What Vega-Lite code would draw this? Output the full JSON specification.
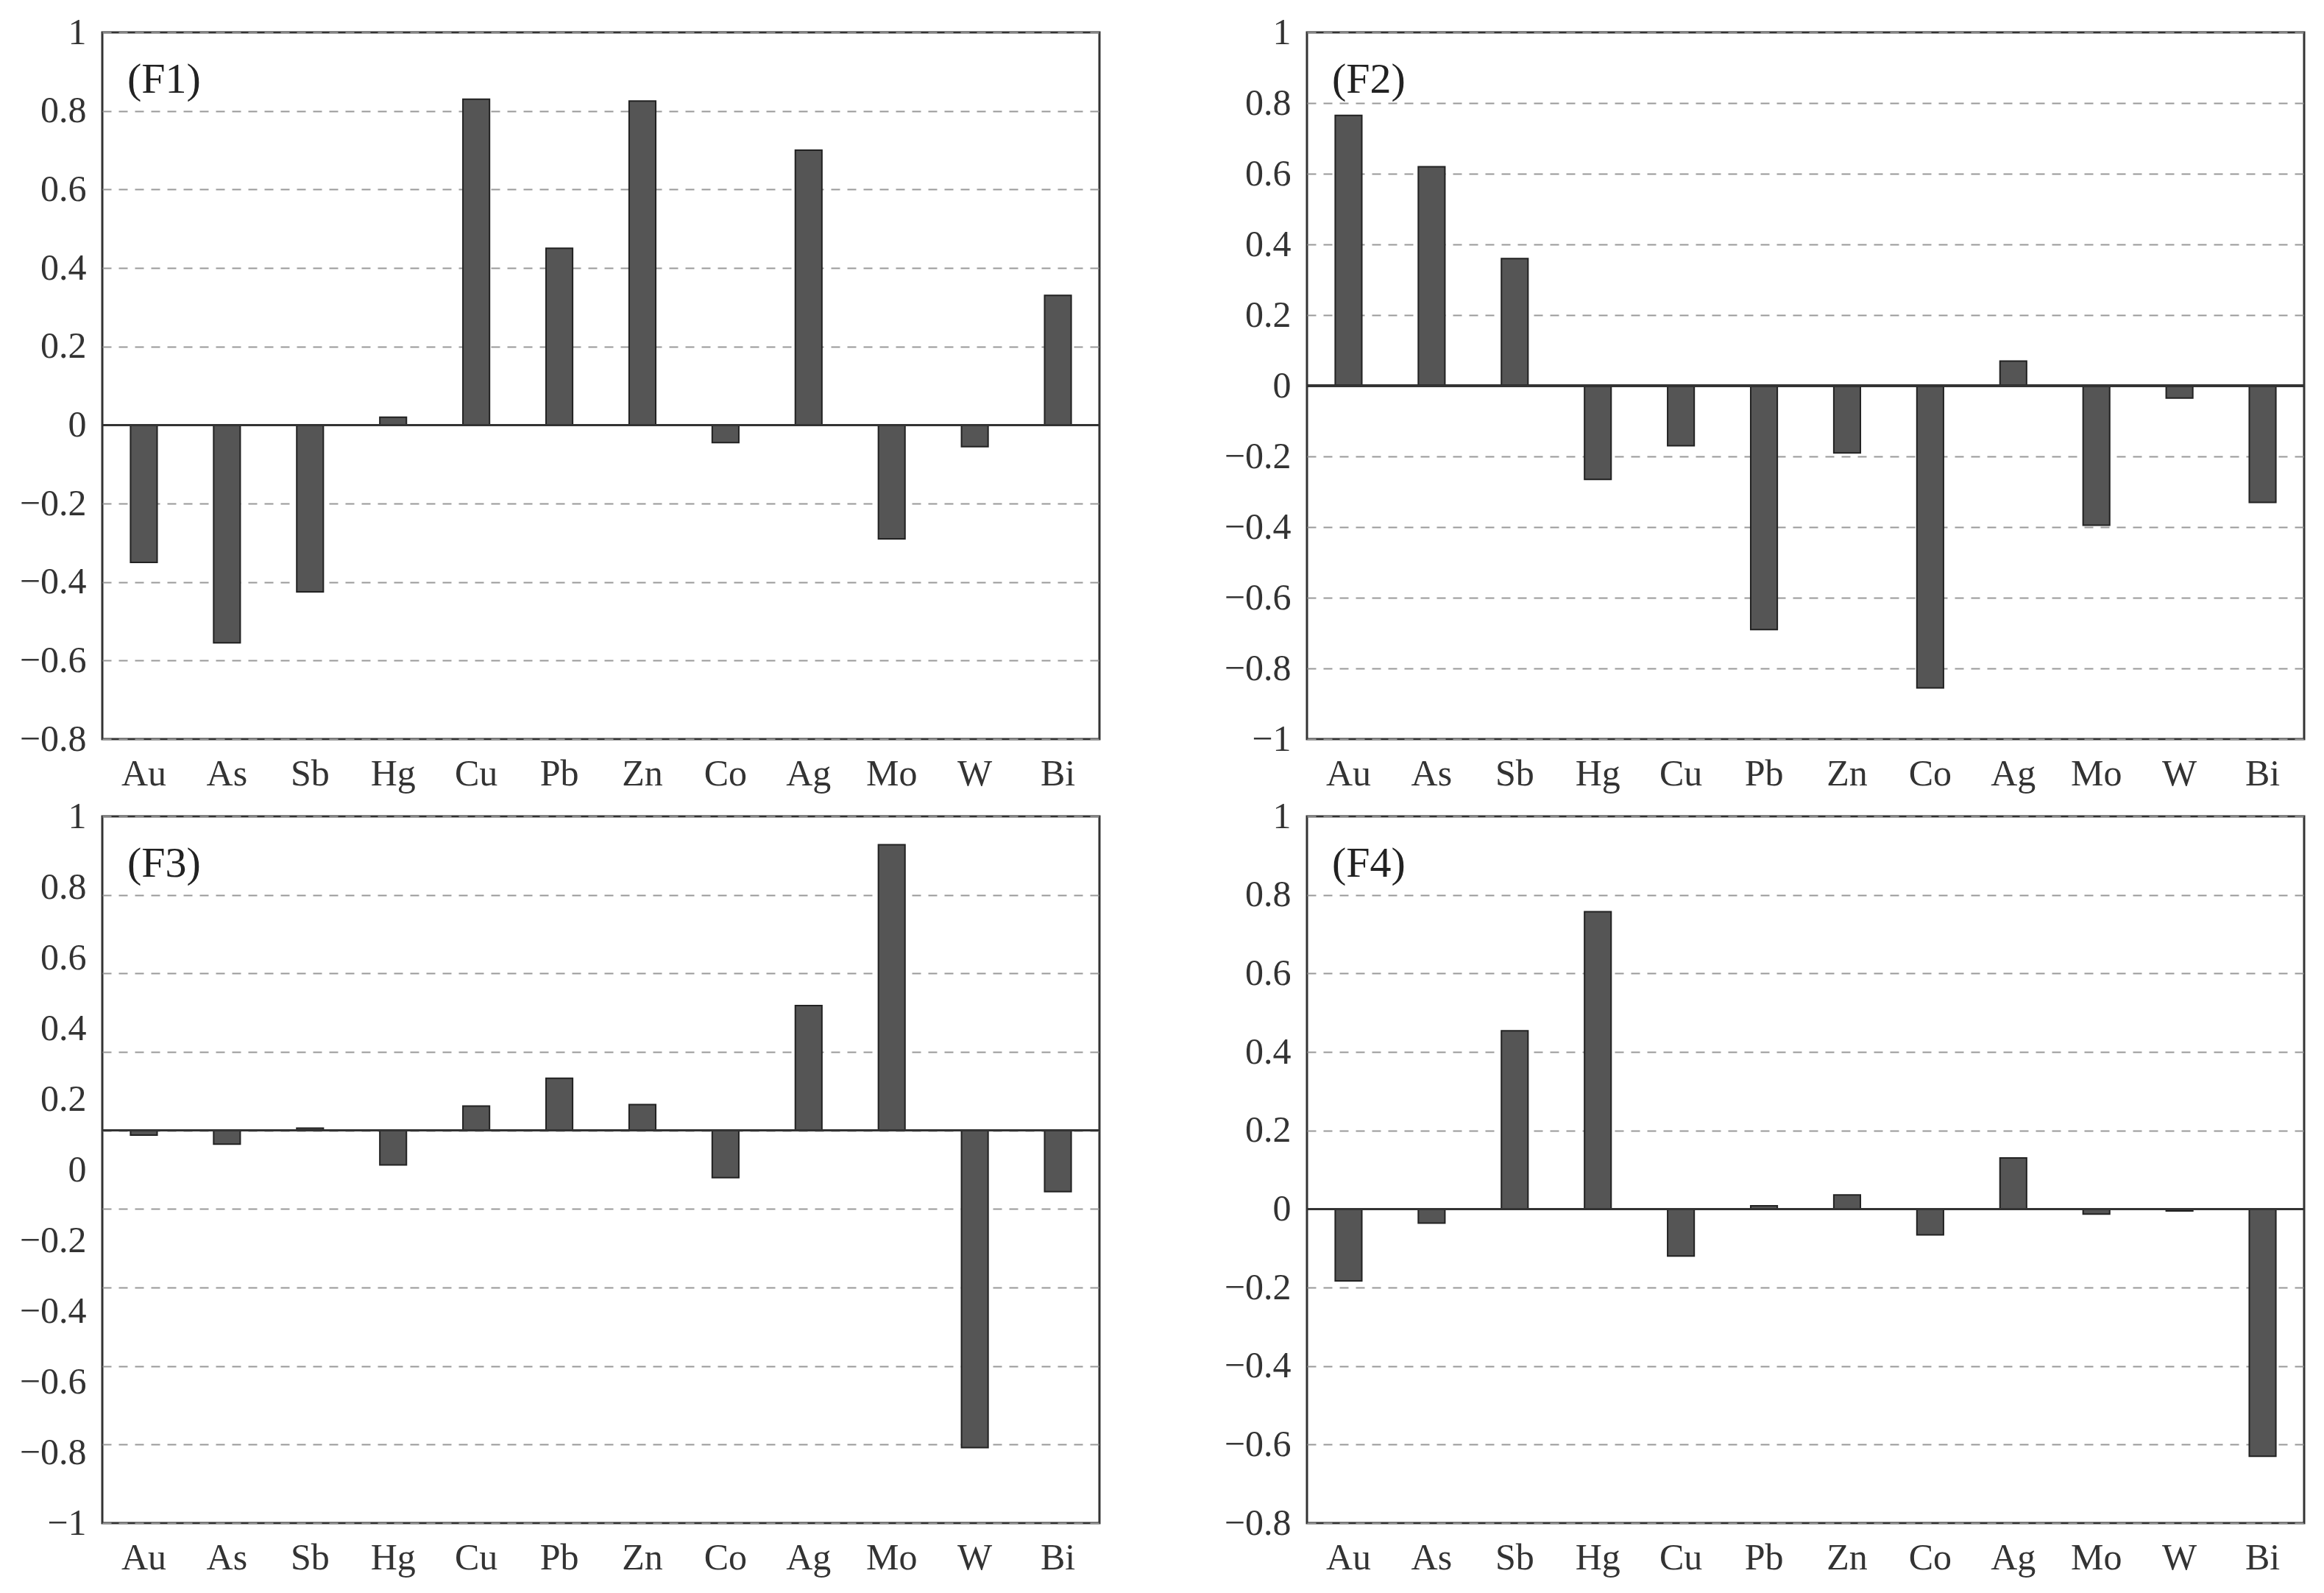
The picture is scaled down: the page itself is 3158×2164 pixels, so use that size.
{
  "$schema": "https://vega.github.io/schema/vega-lite/v6.json",
  "background": "white",
  "padding": {"left": 24, "top": 17, "right": 10, "bottom": 5},
  "columns": 2,
  "spacing": {"row": 4, "column": 164},
  "datasets": {
    "loadings": [
      {"factor": "F1", "element": "Au", "value": -0.35},
      {"factor": "F1", "element": "As", "value": -0.555},
      {"factor": "F1", "element": "Sb", "value": -0.425},
      {"factor": "F1", "element": "Hg", "value": 0.02},
      {"factor": "F1", "element": "Cu", "value": 0.83},
      {"factor": "F1", "element": "Pb", "value": 0.45},
      {"factor": "F1", "element": "Zn", "value": 0.825},
      {"factor": "F1", "element": "Co", "value": -0.045},
      {"factor": "F1", "element": "Ag", "value": 0.7},
      {"factor": "F1", "element": "Mo", "value": -0.29},
      {"factor": "F1", "element": "W", "value": -0.055},
      {"factor": "F1", "element": "Bi", "value": 0.33},
      {"factor": "F2", "element": "Au", "value": 0.765},
      {"factor": "F2", "element": "As", "value": 0.62},
      {"factor": "F2", "element": "Sb", "value": 0.36},
      {"factor": "F2", "element": "Hg", "value": -0.265},
      {"factor": "F2", "element": "Cu", "value": -0.17},
      {"factor": "F2", "element": "Pb", "value": -0.69},
      {"factor": "F2", "element": "Zn", "value": -0.19},
      {"factor": "F2", "element": "Co", "value": -0.855},
      {"factor": "F2", "element": "Ag", "value": 0.07},
      {"factor": "F2", "element": "Mo", "value": -0.395},
      {"factor": "F2", "element": "W", "value": -0.035},
      {"factor": "F2", "element": "Bi", "value": -0.33},
      {"factor": "F3", "element": "Au", "value": -0.012},
      {"factor": "F3", "element": "As", "value": -0.035},
      {"factor": "F3", "element": "Sb", "value": 0.006},
      {"factor": "F3", "element": "Hg", "value": -0.088},
      {"factor": "F3", "element": "Cu", "value": 0.062},
      {"factor": "F3", "element": "Pb", "value": 0.133},
      {"factor": "F3", "element": "Zn", "value": 0.066},
      {"factor": "F3", "element": "Co", "value": -0.12},
      {"factor": "F3", "element": "Ag", "value": 0.318},
      {"factor": "F3", "element": "Mo", "value": 0.728},
      {"factor": "F3", "element": "W", "value": -0.808},
      {"factor": "F3", "element": "Bi", "value": -0.156},
      {"factor": "F4", "element": "Au", "value": -0.183},
      {"factor": "F4", "element": "As", "value": -0.036},
      {"factor": "F4", "element": "Sb", "value": 0.454},
      {"factor": "F4", "element": "Hg", "value": 0.757},
      {"factor": "F4", "element": "Cu", "value": -0.12},
      {"factor": "F4", "element": "Pb", "value": 0.008},
      {"factor": "F4", "element": "Zn", "value": 0.036},
      {"factor": "F4", "element": "Co", "value": -0.066},
      {"factor": "F4", "element": "Ag", "value": 0.13},
      {"factor": "F4", "element": "Mo", "value": -0.013},
      {"factor": "F4", "element": "W", "value": -0.005},
      {"factor": "F4", "element": "Bi", "value": -0.63}
    ]
  },
  "concat": [
    {
      "width": 1355,
      "height": 960,
      "title": {"text": "(F1)", "anchor": "start", "frame": "group", "orient": "top", "baseline": "alphabetic", "offset": -165, "dx": 34},
      "data": {"name": "loadings"},
      "transform": [{"filter": "datum.factor === 'F1'"}],
      "layer": [
        {
          "mark": {"type": "bar", "fill": "#555555", "stroke": "#222222", "strokeWidth": 2},
          "encoding": {
            "x": {"field": "element", "type": "nominal", "sort": ["Au", "As", "Sb", "Hg", "Cu", "Pb", "Zn", "Co", "Ag", "Mo", "W", "Bi"], "scale": {"paddingInner": 0.68, "paddingOuter": 0.34}, "title": null},
            "y": {"field": "value", "type": "quantitative", "scale": {"domain": [-0.8, 1], "nice": false, "zero": false}, "axis": {"values": [-0.8, -0.6, -0.4, -0.2, 0, 0.2, 0.4, 0.6, 0.8, 1], "format": "~g"}, "title": null}
          }
        },
        {
          "mark": {"type": "rule", "color": "#333333", "strokeWidth": 2.5},
          "encoding": {"y": {"datum": 0}}
        }
      ]
    },
    {
      "width": 1355,
      "height": 960,
      "title": {"text": "(F2)", "anchor": "start", "frame": "group", "orient": "top", "baseline": "alphabetic", "offset": -165, "dx": 34},
      "data": {"name": "loadings"},
      "transform": [{"filter": "datum.factor === 'F2'"}],
      "layer": [
        {
          "mark": {"type": "bar", "fill": "#555555", "stroke": "#222222", "strokeWidth": 2},
          "encoding": {
            "x": {"field": "element", "type": "nominal", "sort": ["Au", "As", "Sb", "Hg", "Cu", "Pb", "Zn", "Co", "Ag", "Mo", "W", "Bi"], "scale": {"paddingInner": 0.68, "paddingOuter": 0.34}, "title": null},
            "y": {"field": "value", "type": "quantitative", "scale": {"domain": [-1, 1], "nice": false, "zero": false}, "axis": {"values": [-1, -0.8, -0.6, -0.4, -0.2, 0, 0.2, 0.4, 0.6, 0.8, 1], "format": "~g"}, "title": null}
          }
        },
        {
          "mark": {"type": "rule", "color": "#333333", "strokeWidth": 2.5},
          "encoding": {"y": {"datum": 0}}
        }
      ]
    },
    {
      "width": 1355,
      "height": 960,
      "title": {"text": "(F3)", "anchor": "start", "frame": "group", "orient": "top", "baseline": "alphabetic", "offset": -165, "dx": 34},
      "data": {"name": "loadings"},
      "transform": [{"filter": "datum.factor === 'F3'"}],
      "layer": [
        {
          "layer": [
            {
              "mark": {"type": "bar", "fill": "#555555", "stroke": "#222222", "strokeWidth": 2},
              "encoding": {
                "x": {"field": "element", "type": "nominal", "sort": ["Au", "As", "Sb", "Hg", "Cu", "Pb", "Zn", "Co", "Ag", "Mo", "W", "Bi"], "scale": {"paddingInner": 0.68, "paddingOuter": 0.34}, "title": null},
                "y": {"field": "value", "type": "quantitative", "scale": {"domain": [-1, 0.8], "nice": false, "zero": false}, "axis": {"values": [-1, -0.8, -0.6, -0.4, -0.2, 0, 0.2, 0.4, 0.6, 0.8], "labels": false, "grid": true}, "title": null}
              }
            },
            {
              "mark": {"type": "rule", "color": "#333333", "strokeWidth": 2.5},
              "encoding": {"y": {"datum": 0}}
            }
          ]
        },
        {
          "mark": {"type": "point", "opacity": 0},
          "encoding": {
            "x": {"field": "element", "type": "nominal", "sort": ["Au", "As", "Sb", "Hg", "Cu", "Pb", "Zn", "Co", "Ag", "Mo", "W", "Bi"], "title": null},
            "y": {"field": "value", "type": "quantitative", "scale": {"domain": [-1, 1], "nice": false, "zero": false}, "axis": {"orient": "left", "grid": false, "values": [-1, -0.8, -0.6, -0.4, -0.2, 0, 0.2, 0.4, 0.6, 0.8, 1], "format": "~g"}, "title": null}
          }
        }
      ],
      "resolve": {"scale": {"y": "independent"}}
    },
    {
      "width": 1355,
      "height": 960,
      "title": {"text": "(F4)", "anchor": "start", "frame": "group", "orient": "top", "baseline": "alphabetic", "offset": -165, "dx": 34},
      "data": {"name": "loadings"},
      "transform": [{"filter": "datum.factor === 'F4'"}],
      "layer": [
        {
          "mark": {"type": "bar", "fill": "#555555", "stroke": "#222222", "strokeWidth": 2},
          "encoding": {
            "x": {"field": "element", "type": "nominal", "sort": ["Au", "As", "Sb", "Hg", "Cu", "Pb", "Zn", "Co", "Ag", "Mo", "W", "Bi"], "scale": {"paddingInner": 0.68, "paddingOuter": 0.34}, "title": null},
            "y": {"field": "value", "type": "quantitative", "scale": {"domain": [-0.8, 1], "nice": false, "zero": false}, "axis": {"values": [-0.8, -0.6, -0.4, -0.2, 0, 0.2, 0.4, 0.6, 0.8, 1], "format": "~g"}, "title": null}
          }
        },
        {
          "mark": {"type": "rule", "color": "#333333", "strokeWidth": 2.5},
          "encoding": {"y": {"datum": 0}}
        }
      ]
    }
  ],
  "config": {
    "font": "Liberation Serif",
    "view": {"stroke": "#333333", "strokeWidth": 3},
    "title": {"font": "Liberation Serif", "fontSize": 58, "fontWeight": "normal", "color": "#222222"},
    "axis": {"labelFont": "Liberation Serif", "labelFontSize": 50, "labelColor": "#333333", "ticks": false, "domain": false},
    "axisX": {"labelAngle": 0, "labelPadding": 22, "grid": false},
    "axisY": {"labelPadding": 22, "grid": true, "gridDash": [12, 10], "gridColor": "#999999", "gridWidth": 2}
  }
}
